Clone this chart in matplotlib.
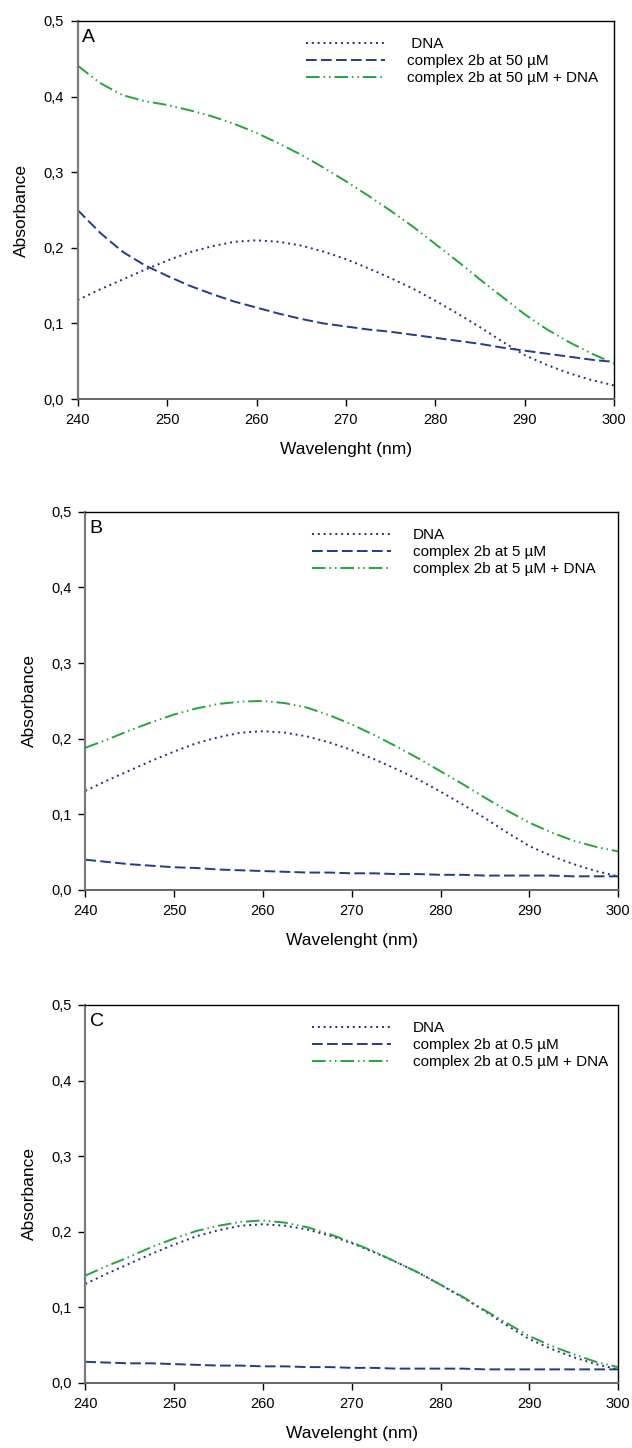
import matplotlib.pyplot as plt
from matplotlib.ticker import FixedLocator

plt.rcParams['font.family'] = ['Liberation Sans', 'DejaVu Sans']

# Wavelength grid (nm), read every 2.5 nm
wavelength = [240, 242.5, 245, 247.5, 250, 252.5, 255, 257.5, 260, 262.5, 265, 267.5, 270,
              272.5, 275, 277.5, 280, 282.5, 285, 287.5, 290, 292.5, 295, 297.5, 300]

# DNA alone (same in every panel)
dna = [0.131, 0.145, 0.158, 0.171, 0.183, 0.194, 0.202, 0.208, 0.210, 0.208, 0.203, 0.195, 0.185,
       0.173, 0.160, 0.146, 0.130, 0.113, 0.095, 0.076, 0.058, 0.045, 0.034, 0.025, 0.018]

# Panel A: complex 2b at 50 uM
cplx_50 = [0.250, 0.220, 0.195, 0.177, 0.163, 0.150, 0.139, 0.129, 0.121, 0.113, 0.106, 0.100, 0.096,
           0.092, 0.089, 0.085, 0.081, 0.077, 0.073, 0.068, 0.064, 0.060, 0.056, 0.052, 0.049]
cplx_50_dna = [0.441, 0.418, 0.402, 0.394, 0.389, 0.382, 0.374, 0.364, 0.352, 0.338, 0.323, 0.306, 0.288,
               0.269, 0.249, 0.228, 0.205, 0.182, 0.158, 0.135, 0.112, 0.092, 0.075, 0.060, 0.047]

# Panel B: complex 2b at 5 uM
cplx_5 = [0.040, 0.037, 0.034, 0.032, 0.030, 0.029, 0.027, 0.026, 0.025, 0.024, 0.023, 0.023, 0.022,
          0.022, 0.021, 0.021, 0.020, 0.020, 0.019, 0.019, 0.019, 0.019, 0.018, 0.018, 0.018]
cplx_5_dna = [0.188, 0.199, 0.211, 0.222, 0.232, 0.240, 0.246, 0.249, 0.250, 0.247, 0.241, 0.231, 0.219,
              0.205, 0.190, 0.174, 0.157, 0.140, 0.122, 0.105, 0.089, 0.076, 0.065, 0.057, 0.051]

# Panel C: complex 2b at 0.5 uM
cplx_05 = [0.028, 0.027, 0.026, 0.026, 0.025, 0.024, 0.023, 0.023, 0.022, 0.022, 0.021, 0.021, 0.020,
           0.020, 0.019, 0.019, 0.019, 0.019, 0.018, 0.018, 0.018, 0.018, 0.018, 0.018, 0.018]
cplx_05_dna = [0.142, 0.155, 0.167, 0.180, 0.191, 0.201, 0.208, 0.213, 0.215, 0.212, 0.206, 0.197, 0.186,
               0.174, 0.160, 0.146, 0.130, 0.114, 0.096, 0.079, 0.062, 0.049, 0.038, 0.028, 0.021]

yticks = [0.0, 0.1, 0.2, 0.3, 0.4, 0.5]
ytick_labels = ['0,0', '0,1', '0,2', '0,3', '0,4', '0,5']
xticks = [240, 250, 260, 270, 280, 290, 300]

panels = [
    ('A', '50 µM', ' DNA', cplx_50, cplx_50_dna),
    ('B', '5 µM', 'DNA', cplx_5, cplx_5_dna),
    ('C', '0.5 µM', 'DNA', cplx_05, cplx_05_dna),
]

# axes boxes in figure fractions
boxes = [
    [0.1229, 0.7244, 0.849, 0.2611],
    [0.1350, 0.3854, 0.843, 0.2611],
    [0.1350, 0.0449, 0.843, 0.2611],
]

fig = plt.figure(figsize=(6.32, 14.48), dpi=100)

for (letter, conc, dna_label, cplx, cplx_dna), box in zip(panels, boxes):
    ax = fig.add_axes(box)
    ax.plot(wavelength, dna, color='#2b2a78', lw=1.4, linestyle=(0, (1, 2.0)),
            label=dna_label)
    ax.plot(wavelength, cplx, color='#1f3a93', lw=1.4, linestyle=(0, (5.5, 2.2)),
            label=f'complex 2b at {conc}')
    ax.plot(wavelength, cplx_dna, color='#1ea83c', lw=1.4,
            linestyle=(0, (7, 2, 0.8, 2, 0.8, 2)),
            label=f'complex 2b at {conc} + DNA')

    ax.set_xlim(240, 300)
    ax.set_ylim(0, 0.5)
    ax.xaxis.set_major_locator(FixedLocator(xticks))
    ax.set_yticks(yticks)
    ax.set_yticklabels(ytick_labels)
    ax.tick_params(direction='out', length=5, width=1, labelsize=10.5, colors='black')
    ax.tick_params(axis='x', pad=5)
    ax.tick_params(axis='y', pad=5)

    ax.spines['left'].set_color('#7a7a7a')
    ax.spines['left'].set_linewidth(1.6)
    ax.spines['bottom'].set_color('#666666')
    ax.spines['bottom'].set_linewidth(1.4)
    ax.spines['top'].set_color('black')
    ax.spines['right'].set_color('black')
    ax.spines['top'].set_linewidth(1.0)
    ax.spines['right'].set_linewidth(1.0)

    ax.set_xlabel('Wavelenght (nm)', fontsize=12.5, labelpad=11)
    ax.set_ylabel('Absorbance', fontsize=12.5, labelpad=10)

    ax.text(0.008, 0.978, letter, transform=ax.transAxes, fontsize=14,
            ha='left', va='top')

    ax.legend(loc='upper left', bbox_to_anchor=(0.405, 0.985), frameon=False,
              fontsize=11, handlelength=5.2, handletextpad=1.4,
              labelspacing=0.2, borderaxespad=0.3)

fig.savefig('out.png', dpi=100)
